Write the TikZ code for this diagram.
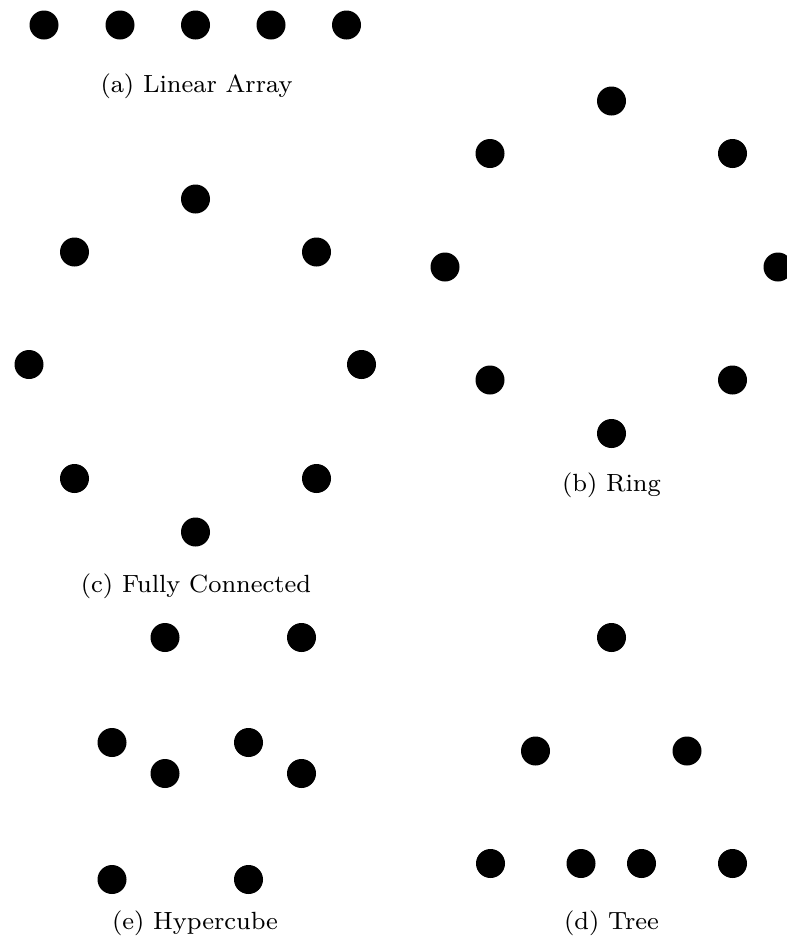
\documentclass[tikz,border=0pt]{standalone}
\begin{document}
\begin{tikzpicture}[x=1pt,y=-1pt,
  dot/.style={circle,fill=black,inner sep=0pt,minimum size=29pt},
  captext/.style={anchor=base,inner sep=0pt,scale=3.11,font=\fontsize{8}{9.5}\selectfont}]
\useasboundingbox (0,0) rectangle (787,940);
% (a) Linear Array
\node[dot] (a1) at (44,25) {};
\node[dot] (a2) at (120,25) {};
\node[dot] (a3) at (195.5,25) {};
\node[dot] (a4) at (271,25) {};
\node[dot] (a5) at (346.5,25) {};
\node[captext] (ca) at (196.5,92) {(a) Linear Array};
% (b) Ring
\node[dot] (b1) at (611.5,101) {};
\node[dot] (b2) at (732.5,153.5) {};
\node[dot] (b3) at (778,267) {};
\node[dot] (b4) at (732.5,380) {};
\node[dot] (b5) at (611.5,433.5) {};
\node[dot] (b6) at (490,380) {};
\node[dot] (b7) at (445,267) {};
\node[dot] (b8) at (490,153.5) {};
\node[captext] (cb) at (611.5,491) {(b) Ring};
% (c) Fully Connected
\node[dot] (c1) at (195.5,199) {};
\node[dot] (c2) at (316.5,252) {};
\node[dot] (c3) at (361.5,364.5) {};
\node[dot] (c4) at (316.5,478.5) {};
\node[dot] (c5) at (195.5,532) {};
\node[dot] (c6) at (74.5,478.5) {};
\node[dot] (c7) at (29,364.5) {};
\node[dot] (c8) at (74.5,252) {};
\node[captext] (cc) at (196,592) {(c) Fully Connected};
% (e) Hypercube
\node[dot] (e1) at (165,637.5) {};
\node[dot] (e2) at (301.5,637.5) {};
\node[dot] (e3) at (112,742.5) {};
\node[dot] (e4) at (248.5,742.5) {};
\node[dot] (e5) at (165,773.5) {};
\node[dot] (e6) at (301.5,773.5) {};
\node[dot] (e7) at (112,879.5) {};
\node[dot] (e8) at (248.5,879.5) {};
\node[captext] (ce) at (195,929) {(e) Hypercube};
% (d) Tree
\node[dot] (d1) at (611.5,637.5) {};
\node[dot] (d2) at (535.5,751) {};
\node[dot] (d3) at (687,751) {};
\node[dot] (d4) at (490.5,863.5) {};
\node[dot] (d5) at (581,863.5) {};
\node[dot] (d6) at (641.5,863.5) {};
\node[dot] (d7) at (732.5,863.5) {};
\node[captext] (cd) at (611.5,929) {(d) Tree};
\end{tikzpicture}
\end{document}
